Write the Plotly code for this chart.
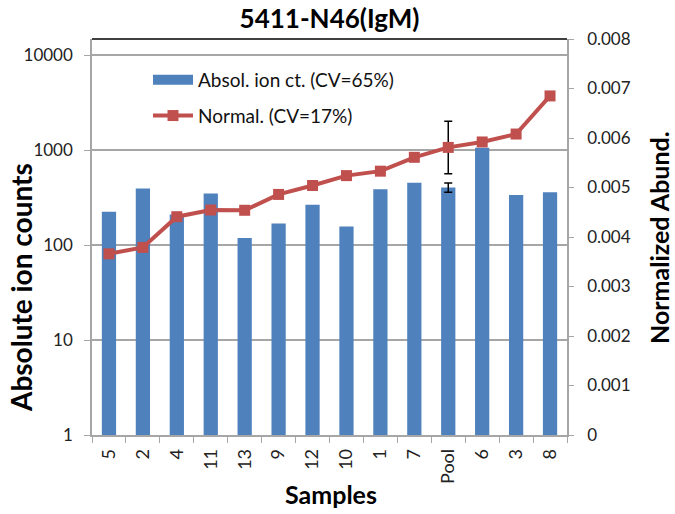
import plotly.graph_objects as go

samples = ["5", "2", "4", "11", "13", "9", "12", "10", "1", "7", "Pool", "6", "3", "8"]
abs_counts = [224, 395, 210, 350, 119, 169, 266, 157, 388, 453, 405, 1060, 336, 359]
norm_abund = [0.00366, 0.00379, 0.00441, 0.004545, 0.00454, 0.00486, 0.00504,
              0.00524, 0.00533, 0.00561, 0.00581, 0.00592, 0.00608, 0.00685]
pool_label = "Pool"
pool_abs_err = 45
pool_norm_err = 0.00053
left_ticks = [1, 10, 100, 1000, 10000]
right_ticks = [0, 0.001, 0.002, 0.003, 0.004, 0.005, 0.006, 0.007, 0.008]
right_labels = ["0", "0.001", "0.002", "0.003", "0.004", "0.005", "0.006", "0.007", "0.008"]

BLUE = "#4F81BD"
RED = "#C0504D"
GRID = "#A6A6A6"
TXT = "#222222"
FONT = "Lato"

pool_i = samples.index(pool_label)

fig = go.Figure()
fig.add_trace(go.Bar(
    x=samples, y=abs_counts, width=0.42, marker=dict(color=BLUE, line=dict(width=0)),
    showlegend=False, name="Absol. ion ct. (CV=65%)", yaxis="y"))
# error bar on the pool bar
fig.add_trace(go.Scatter(
    x=[pool_label], y=[abs_counts[pool_i]], mode="markers", marker=dict(opacity=0, size=1),
    error_y=dict(type="data", array=[pool_abs_err], visible=True, color="black", thickness=1.5, width=4),
    showlegend=False, yaxis="y", hoverinfo="skip"))
# legend proxy for the bar series (wide rectangle like the original)
fig.add_trace(go.Scatter(
    x=[None], y=[None], mode="lines", line=dict(color=BLUE, width=10),
    name="Absol. ion ct. (CV=65%)", legendgroup="a", yaxis="y"))
fig.add_trace(go.Scatter(
    x=[pool_label], y=[norm_abund[pool_i]], mode="markers", marker=dict(opacity=0, size=1),
    error_y=dict(type="data", array=[pool_norm_err], visible=True, color="black", thickness=1.5, width=4),
    showlegend=False, yaxis="y2", hoverinfo="skip"))
fig.add_trace(go.Scatter(
    x=samples, y=norm_abund, mode="lines+markers", yaxis="y2",
    line=dict(color=RED, width=4), marker=dict(symbol="square", size=11, color=RED),
    name="Normal. (CV=17%)", legendgroup="b"))

W, H = 675, 514
L, R, T, B = 92, 108, 39, 79
pw, ph = W - L - R, H - T - B

def px(xs):
    return (xs - L) / pw

def py(ys):
    return (H - B - ys) / ph

fig.update_layout(
    width=W, height=H,
    margin=dict(l=L, r=R, t=T, b=B, autoexpand=False),
    paper_bgcolor="white", plot_bgcolor="white",
    font=dict(family=FONT, color=TXT),
    title=dict(text="<b>5411-N46(IgM)</b>", x=0.5, xref="paper", xanchor="center",
               y=1 - 19 / H, yref="container", yanchor="middle",
               font=dict(size=26, color="black", family=FONT)),
    xaxis=dict(type="category", showline=True, linecolor=GRID, linewidth=1.5,
               ticks="outside", tickson="boundaries", ticklen=6, tickcolor=GRID,
               tickangle=-90, tickfont=dict(size=18, color=TXT), ticklabelstandoff=5,
               showgrid=False, zeroline=False, range=[-0.5, 13.5], automargin=False),
    yaxis=dict(type="log", range=[0, 4.17], tickvals=left_ticks,
               ticktext=[str(v) for v in left_ticks],
               showgrid=True, gridcolor=GRID, gridwidth=1.5,
               showline=True, linecolor=GRID, linewidth=1.5,
               ticks="outside", ticklen=6, tickcolor=GRID, ticklabelstandoff=8,
               tickfont=dict(size=17, color=TXT), zeroline=False, automargin=False),
    yaxis2=dict(overlaying="y", side="right", range=[0, 0.008], tickvals=right_ticks,
                ticktext=right_labels, showgrid=False, showline=True, linecolor=GRID,
                linewidth=1.5, ticks="outside", ticklen=5, tickcolor=GRID,
                ticklabelstandoff=10,
                tickfont=dict(size=17, color=TXT), zeroline=False, automargin=False),
    legend=dict(x=px(148), y=py(61), xanchor="left", yanchor="top", bgcolor="rgba(0,0,0,0)",
                font=dict(size=19, color="#111111"), tracegroupgap=8, traceorder="grouped",
                itemwidth=40),
    shapes=[dict(type="line", xref="paper", yref="paper", x0=0, x1=1, y0=1, y1=1,
                 line=dict(color="black", width=1.5))],
    annotations=[
        dict(text="<b>Absolute ion counts</b>", xref="paper", yref="paper",
             x=px(21), y=py(288), textangle=-90, showarrow=False,
             xanchor="center", yanchor="middle", font=dict(size=28, color="black")),
        dict(text="<b>Normalized Abund.</b>", xref="paper", yref="paper",
             x=px(659), y=py(238), textangle=-90, showarrow=False,
             xanchor="center", yanchor="middle", font=dict(size=25, color="black")),
        dict(text="<b>Samples</b>", xref="paper", yref="paper",
             x=px(331), y=py(494), showarrow=False,
             xanchor="center", yanchor="middle", font=dict(size=25, color="black")),
    ],
)

fig.write_html("out.html", config={"displayModeBar": False},
               post_script="document.body.style.margin='0';")
